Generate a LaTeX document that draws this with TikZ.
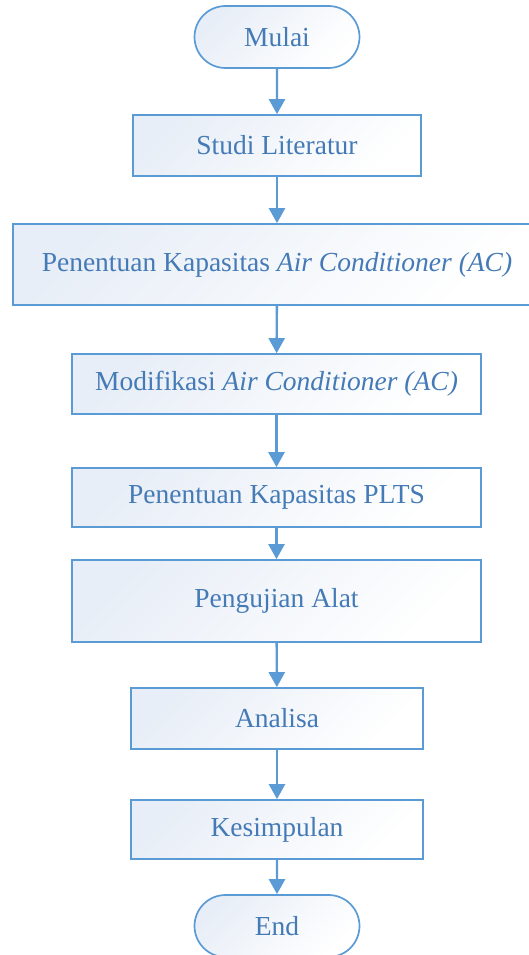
\documentclass[tikz,border=0pt]{standalone}
\usepackage{fontspec}
\setmainfont{Liberation Serif}
\usetikzlibrary{arrows.meta,shapes.misc}
\definecolor{bordc}{RGB}{91,155,213}
\definecolor{txtc}{RGB}{68,122,182}
\definecolor{fillc}{RGB}{232,238,247}
\begin{document}
\begin{tikzpicture}[x=1pt,y=-1pt,
  box/.style={draw=bordc,line width=1.7pt,top color=fillc,bottom color=white,shading angle=45,
    text=txtc,font=\fontsize{27.5}{30}\selectfont,inner sep=0pt,anchor=center},
  term/.style={box,rounded rectangle},
  arr/.style={draw=bordc,line width=2.4pt,-{Triangle[length=15pt,width=16pt]}}]
\useasboundingbox (0,0) rectangle (529,955);
\begin{scope}
\clip (0,0) rectangle (529,955);
\node[term,minimum width=165pt,minimum height=62pt] (mulai) at (277,37) {Mulai};
\node[box,minimum width=288pt,minimum height=61pt] (studi) at (277,145.5) {Studi Literatur};
\node[box,minimum width=528pt,minimum height=81pt] (kap) at (277,264.5) {Penentuan Kapasitas \textit{Air Conditioner (AC)}};
\node[box,minimum width=409pt,minimum height=60pt] (mod) at (276.5,384) {Modifikasi \textit{Air Conditioner (AC)}};
\node[box,minimum width=409pt,minimum height=59pt] (plts) at (276.5,497.5) {Penentuan Kapasitas PLTS};
\node[box,minimum width=409pt,minimum height=82pt] (uji) at (276.5,601) {Pengujian Alat};
\node[box,minimum width=292pt,minimum height=61pt] (ana) at (277,718.5) {Analisa};
\node[box,minimum width=292pt,minimum height=59pt] (kes) at (277,829.5) {Kesimpulan};
\node[term,minimum width=165pt,minimum height=62pt] (end) at (277,926) {End};
\end{scope}
\draw[arr] (mulai) -- (studi);
\draw[arr] (studi) -- (kap);
\draw[arr] (kap) -- (mod);
\draw[arr] (mod) -- (plts);
\draw[arr] (plts) -- (uji);
\draw[arr] (uji) -- (ana);
\draw[arr] (ana) -- (kes);
\draw[arr] (kes) -- (end);
\end{tikzpicture}
\end{document}
